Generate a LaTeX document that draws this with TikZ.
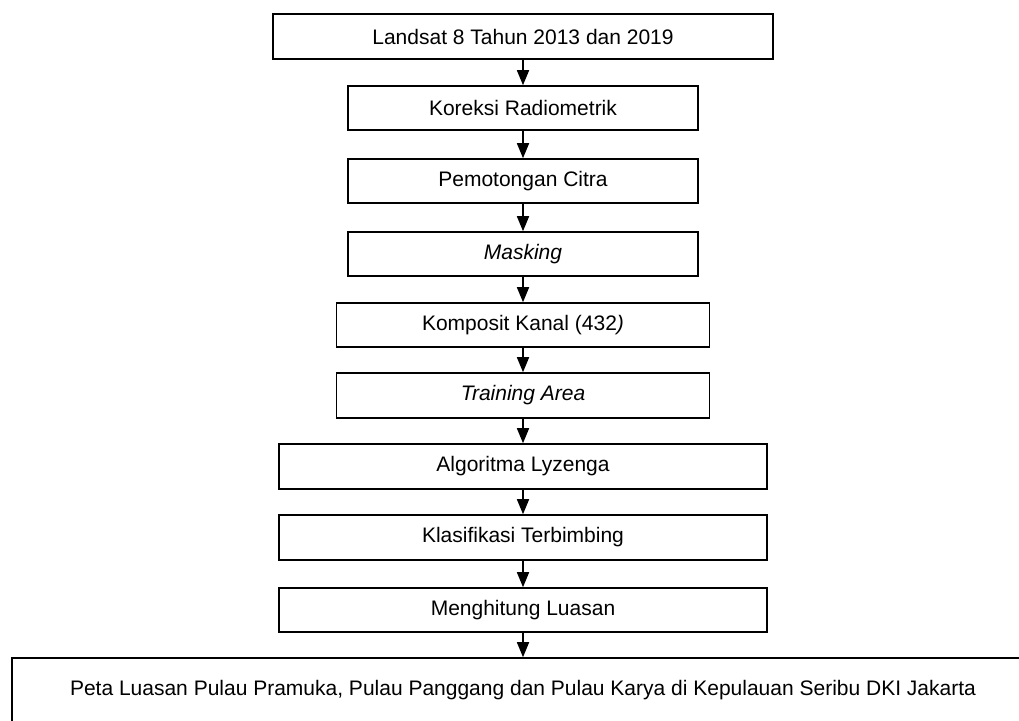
\documentclass[tikz,border=0pt]{standalone}
\usepackage{fontspec}
\setmainfont{Liberation Sans}
\usetikzlibrary{arrows.meta}
\begin{document}
\begin{tikzpicture}[x=1pt,y=-1pt,
  box/.style={draw=black, line width=1.6pt, fill=white, inner sep=0pt,
    font=\fontsize{21}{24}\selectfont, text=black},
  flow/.style={line width=1.6pt, -{Triangle[length=15pt,width=12pt]}}]
\useasboundingbox (0,0) rectangle (1019,720);
\fill[white] (0,0) rectangle (1019,720);
\node[box, minimum width=500pt, minimum height=45pt] (b1) at (523,36.5) {Landsat 8 Tahun 2013 dan 2019};
\node[box, minimum width=350pt, minimum height=44pt] (b2) at (523,108) {Koreksi Radiometrik};
\node[box, minimum width=350pt, minimum height=44pt] (b3) at (523,181) {Pemotongan Citra};
\node[box, minimum width=350pt, minimum height=44pt] (b4) at (523,254) {\itshape Masking};
\node[box, minimum width=373pt, minimum height=44pt] (b5) at (523,325) {Komposit Kanal (432\textit{)}};
\node[box, minimum width=373pt, minimum height=45pt] (b6) at (523,395.5) {\itshape Training Area};
\node[box, minimum width=488pt, minimum height=45pt] (b7) at (523,466.5) {Algoritma Lyzenga};
\node[box, minimum width=488pt, minimum height=45pt] (b8) at (523,537.5) {Klasifikasi Terbimbing};
\node[box, minimum width=488pt, minimum height=44pt] (b9) at (523,610) {Menghitung Luasan};
\node[box, minimum width=1022pt, minimum height=64pt] (b10) at (523,690) {Peta Luasan Pulau Pramuka, Pulau Panggang dan Pulau Karya di Kepulauan Seribu DKI Jakarta};
\draw[flow] (b1.south) -- (b2.north);
\draw[flow] (b2.south) -- (b3.north);
\draw[flow] (b3.south) -- (b4.north);
\draw[flow] (b4.south) -- (b5.north);
\draw[flow] (b5.south) -- (b6.north);
\draw[flow] (b6.south) -- (b7.north);
\draw[flow] (b7.south) -- (b8.north);
\draw[flow] (b8.south) -- (b9.north);
\draw[flow] (b9.south) -- (b10.north);
\end{tikzpicture}
\end{document}
